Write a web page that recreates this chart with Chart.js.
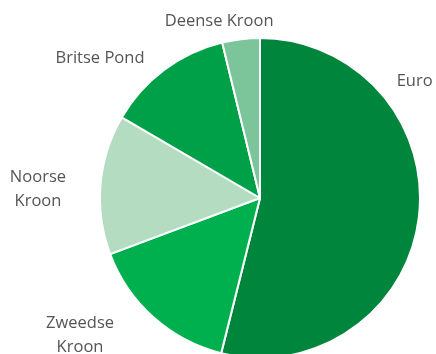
<!DOCTYPE html>
<html>
<head>
<meta charset="utf-8">
<script src="https://cdn.jsdelivr.net/npm/chart.js@4/dist/chart.umd.min.js"></script>
<style>
  html, body { margin: 0; padding: 0; background: #ffffff; overflow: hidden; }
  #wrap { position: relative; width: 436px; height: 358px; }
</style>
</head>
<body>
<div id="wrap"><canvas id="c" width="436" height="358"></canvas></div>
<script>
// Aandeel per valuta (%)
const categories = ["Euro", "Zweedse Kroon", "Noorse Kroon", "Britse Pond", "Deense Kroon"];
const shares = [53.9, 15.4, 14.1, 12.8, 3.8];
// How each category name is broken over lines
const labelLines = [["Euro"], ["Zweedse", "Kroon"], ["Noorse", "Kroon"], ["Britse Pond"], ["Deense Kroon"]];

const sliceColors = ["#00853d", "#00b04f", "#b3dcc0", "#00a049", "#7cc59a"];
// Label anchor per slice: angle clockwise from 12 o'clock (deg), distance as a multiple of the radius
const labelAngle = [53, 232.7, 272.3, 311.2, 347.0];
const labelDist = [1.21, 1.414, 1.389, 1.329, 1.136];

const outsideLabels = {
  id: 'outsideLabels',
  afterDatasetsDraw(chart) {
    const ctx = chart.ctx;
    const arcs = chart.getDatasetMeta(0).data;
    ctx.save();
    ctx.font = '16.5px "Open Sans", sans-serif';
    ctx.fillStyle = '#555555';
    ctx.textAlign = 'center';
    ctx.textBaseline = 'middle';
    const lineH = 24;
    arcs.forEach((arc, i) => {
      const a = labelAngle[i] * Math.PI / 180;
      const r = arc.outerRadius * labelDist[i];
      const x = arc.x + r * Math.sin(a);
      const y = arc.y - r * Math.cos(a);
      const lines = labelLines[i];
      lines.forEach((t, k) => {
        ctx.fillText(t, x, y + (k - (lines.length - 1) / 2) * lineH);
      });
    });
    ctx.restore();
  }
};

new Chart(document.getElementById('c'), {
  type: 'pie',
  data: {
    labels: categories,
    datasets: [{
      data: shares,
      backgroundColor: sliceColors,
      borderColor: '#ffffff',
      borderWidth: 2
    }]
  },
  options: {
    responsive: false,
    animation: false,
    radius: 160,
    layout: { padding: { top: 38, bottom: 0, left: 100, right: 16 } },
    plugins: {
      legend: { display: false },
      tooltip: { enabled: false }
    }
  },
  plugins: [outsideLabels]
});
</script>
</body>
</html>
